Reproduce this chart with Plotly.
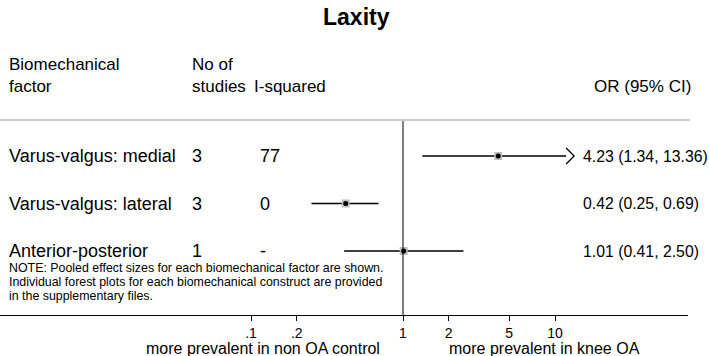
import math
import plotly.graph_objects as go

# ---- data ----
factors = ["Varus-valgus: medial", "Varus-valgus: lateral", "Anterior-posterior"]
n_studies = ["3", "3", "1"]
i_squared = ["77", "0", "-"]
or_est = [4.23, 0.42, 1.01]
ci_low = [1.34, 0.25, 0.41]
ci_high = [13.36, 0.69, 2.50]
tick_vals = [0.1, 0.2, 1, 2, 5, 10]
tick_text = [".1", ".2", "1", "2", "5", "10"]
title_text = "Laxity"
header_factor = "Biomechanical<br>factor"
header_n = "No of<br>studies"
header_i2 = "I-squared"
header_or = "OR (95% CI)"
left_label = "more prevalent in non OA control"
right_label = "more prevalent in knee OA"
note_lines = [
    "NOTE: Pooled effect sizes for each biomechanical factor are shown.",
    "Individual forest plots for each biomechanical construct are provided",
    "in the supplementary files.",
]

# ---- layout geometry (pixels) ----
W, H = 709, 356
PLOT_L, PLOT_R = 0, 688
PLOT_T, PLOT_B = 120, 315
X_ONE = 403          # pixel of OR = 1
DECADE = 152         # pixels per decade
rows = [1, 2, 3]
ROW_PX = [156, 204, 251]

def xp(px):
    return (px - PLOT_L) / (PLOT_R - PLOT_L)

def yp(py):
    return (PLOT_B - py) / (PLOT_B - PLOT_T)

xr = [(PLOT_L - X_ONE) / DECADE, (PLOT_R - X_ONE) / DECADE]
row_step = (ROW_PX[2] - ROW_PX[0]) / 2
yr = [3 + (PLOT_B - ROW_PX[2]) / row_step, 1 - (ROW_PX[0] - PLOT_T) / row_step]

FONT = "Liberation Sans, Arial, Helvetica, sans-serif"
fig = go.Figure()

arm = 10 ** (-8 / DECADE)
arm_y = 8 / row_step
max_tick = max(tick_vals)
for r, est, lo, hi in zip(rows, or_est, ci_low, ci_high):
    if hi > max_tick:
        end = hi * arm
        fig.add_trace(go.Scatter(x=[lo, end], y=[r, r], mode="lines",
                                 line=dict(color="black", width=1.5), hoverinfo="skip"))
        fig.add_trace(go.Scatter(x=[end, hi, end], y=[r - arm_y, r, r + arm_y], mode="lines",
                                 line=dict(color="black", width=1.3), hoverinfo="skip"))
    else:
        fig.add_trace(go.Scatter(x=[lo, hi], y=[r, r], mode="lines",
                                 line=dict(color="black", width=1.5), hoverinfo="skip"))

fig.add_trace(go.Scatter(x=or_est, y=rows, mode="markers",
                         marker=dict(symbol="square", size=8, color="#bdbdbd", line=dict(width=0))))
fig.add_trace(go.Scatter(x=or_est, y=rows, mode="markers",
                         marker=dict(symbol="circle", size=5, color="black", line=dict(width=0))))

# reference line at OR = 1
fig.add_shape(type="line", xref="x", yref="paper", x0=1, x1=1, y0=0, y1=1,
              line=dict(color="black", width=1))
# grey header separator
fig.add_shape(type="line", xref="paper", yref="paper", x0=0, x1=xp(690), y0=1, y1=1,
              line=dict(color="#cfcfcf", width=2))

ann = []
def txt(text, x, y, size, anchor="left", bold=False, yref="paper"):
    ann.append(dict(text=("<b>%s</b>" % text) if bold else text, x=xp(x), y=y if yref == "y" else yp(y),
                    xref="paper", yref=yref, xanchor=anchor, yanchor="middle", showarrow=False,
                    align="left", font=dict(family=FONT, size=size, color="black")))

txt(title_text, 356, 17, 23, anchor="center", bold=True)
ann.append(dict(text=header_factor, x=xp(7), y=yp(98), xref="paper", yref="paper", xanchor="left",
                yanchor="bottom", showarrow=False, align="left",
                font=dict(family=FONT, size=17, color="black")))
ann.append(dict(text=header_n, x=xp(190), y=yp(98), xref="paper", yref="paper", xanchor="left",
                yanchor="bottom", showarrow=False, align="left",
                font=dict(family=FONT, size=17, color="black")))
txt(header_i2, 252, 87, 17)
txt(header_or, 592, 87, 17)

for r, f, n, i2, est, lo, hi in zip(rows, factors, n_studies, i_squared, or_est, ci_low, ci_high):
    txt(f, 7, r, 18, yref="y")
    txt(n, 190, r, 18, yref="y")
    txt(i2, 258, r, 18, yref="y")
    txt("%.2f (%.2f, %.2f)" % (est, lo, hi), 581, r, 15.8, yref="y")

for i, line in enumerate(note_lines):
    txt(line, 7, 268 + 14 * i, 12.4)

txt(left_label, 382, 348, 16, anchor="right")
txt(right_label, 447, 348, 16, anchor="left")

fig.update_layout(
    width=W, height=H,
    margin=dict(l=PLOT_L, r=W - PLOT_R, t=PLOT_T, b=H - PLOT_B, pad=0),
    paper_bgcolor="white", plot_bgcolor="white",
    showlegend=False,
    annotations=ann,
    xaxis=dict(type="log", range=xr, tickvals=tick_vals, ticktext=tick_text,
               showgrid=False, zeroline=False, showline=True, linecolor="black", linewidth=1,
               ticks="outside", ticklen=5, tickcolor="black", tickwidth=1,
               tickfont=dict(family=FONT, size=14, color="black")),
    yaxis=dict(range=yr, visible=False, showgrid=False, zeroline=False),
)
fig.write_html("out.html", config={"displayModeBar": False},
               post_script="document.body.style.margin='0';document.body.style.overflow='hidden';")
